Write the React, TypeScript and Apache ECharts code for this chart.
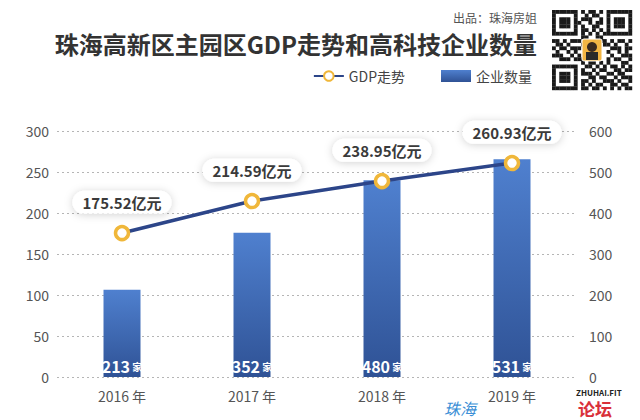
import React, { useEffect, useRef } from "react";
import * as echarts from "echarts";

const categories = ["2016 年", "2017 年", "2018 年", "2019 年"];
const gdpValues = [175.52, 214.59, 238.95, 260.93];
const companyCounts = [213, 352, 480, 531];
const leftTicks = { min: 0, max: 300, interval: 50 };
const rightTicks = { min: 0, max: 600, interval: 100 };
const titleText = "珠海高新区主园区GDP走势和高科技企业数量";
const sourceText = "出品：珠海房姐";

const FONT = "'Noto Sans CJK SC', 'Noto Sans', sans-serif";

// QR-like decoration pattern (rows of modules, 1 = dark)
const qrRows = [
  "1111111010110101111111",
  "1000001001011001000001",
  "1011101011100101011101",
  "1011101100101101011101",
  "1011101010011001011101",
  "1000001011010101000001",
  "1111111010101011111111",
  "0000000011001100000000",
  "1101011101100110101101",
  "0110100010010011010010",
  "1011011100000000111011",
  "0100101000000001001010",
  "1110010100000000100111",
  "0011101110000001011001",
  "0000000010110101000110",
  "1111111001101010110101",
  "1000001010010110011011",
  "1011101011101001101100",
  "1011101000110110010111",
  "1011101011010011101001",
  "1000001010101100110110",
  "1111111011011010101011",
];

function buildQr(x0: number, y0: number, size: number) {
  const n = qrRows.length;
  const m = size / n;
  const children: any[] = [];
  qrRows.forEach((row, r) => {
    for (let c = 0; c < row.length; c++) {
      if (row[c] === "1") {
        children.push({
          type: "rect",
          shape: { x: x0 + c * m, y: y0 + r * m, width: m + 0.2, height: m + 0.2 },
          style: { fill: "#1a1a1a" },
        });
      }
    }
  });
  children.push({
    type: "rect",
    shape: { x: x0 + size / 2 - 10, y: y0 + size / 2 - 11, width: 20, height: 22, r: 2 },
    style: { fill: "#f2b544", stroke: "#fff", lineWidth: 1 },
  });
  children.push({
    type: "circle",
    shape: { cx: x0 + size / 2, cy: y0 + size / 2 - 3, r: 5 },
    style: { fill: "#3a2a20" },
  });
  children.push({
    type: "rect",
    shape: { x: x0 + size / 2 - 6, y: y0 + size / 2 + 2, width: 12, height: 8 },
    style: { fill: "#2a2a2a" },
  });
  return { type: "group", children };
}

export default function App() {
  const ref = useRef<HTMLDivElement>(null);
  useEffect(() => {
    if (!ref.current) return;
    const chart = echarts.init(ref.current, undefined, { renderer: "svg" });
    const barGradient = new echarts.graphic.LinearGradient(0, 0, 0, 1, [
      { offset: 0, color: "#4f80cf" },
      { offset: 1, color: "#2f5295" },
    ]);
    chart.setOption({
      animation: false,
      backgroundColor: "#ffffff",
      textStyle: { fontFamily: FONT },
      grid: { left: 57, right: 63, top: 131, bottom: 43 },
      legend: {
        right: 103,
        top: 64,
        itemWidth: 30,
        itemHeight: 12,
        itemGap: 36,
        textStyle: { fontSize: 14, color: "#444", fontFamily: FONT },
        data: [
          { name: "GDP走势" },
          { name: "企业数量", icon: "rect" },
        ],
      },
      xAxis: {
        type: "category",
        data: categories,
        axisLine: { show: false },
        axisTick: { show: false },
        axisLabel: { color: "#555", fontSize: 14, margin: 12, fontFamily: FONT },
      },
      yAxis: [
        {
          type: "value",
          min: leftTicks.min,
          max: leftTicks.max,
          interval: leftTicks.interval,
          axisLine: { show: false },
          axisTick: { show: false },
          axisLabel: { color: "#555", fontSize: 14, margin: 8, fontFamily: FONT },
          splitLine: { lineStyle: { type: [2, 3], color: "#b5b5b5", width: 1 } },
        },
        {
          type: "value",
          min: rightTicks.min,
          max: rightTicks.max,
          interval: rightTicks.interval,
          axisLine: { show: false },
          axisTick: { show: false },
          axisLabel: { color: "#555", fontSize: 14, margin: 12, fontFamily: FONT },
          splitLine: { show: false },
        },
      ],
      series: [
        {
          name: "企业数量",
          type: "bar",
          yAxisIndex: 1,
          data: companyCounts,
          barWidth: 37,
          itemStyle: { color: barGradient },
          label: {
            show: true,
            position: "insideBottom",
            distance: 3,
            formatter: (p: any) => `{n|${p.value}}{u| 家}`,
            rich: {
              n: { color: "#fff", fontSize: 16, fontWeight: "bold", fontFamily: FONT },
              u: { color: "#fff", fontSize: 10, fontWeight: "bold", fontFamily: FONT },
            },
          },
          z: 2,
        },
        {
          name: "GDP走势",
          type: "line",
          yAxisIndex: 0,
          data: gdpValues,
          symbol: "circle",
          symbolSize: 13,
          lineStyle: { color: "#2c4589", width: 3.5 },
          itemStyle: { color: "#ffffff", borderColor: "#f0b73a", borderWidth: 3.5 },
          label: {
            show: true,
            position: "top",
            distance: 11,
            formatter: "{c}亿元",
            color: "#3a3a3a",
            fontSize: 15,
            fontWeight: "bold",
            fontFamily: FONT,
            backgroundColor: "#ffffff",
            borderRadius: 13,
            padding: [4, 10, 4, 10],
            shadowBlur: 8,
            shadowColor: "rgba(0,0,0,0.18)",
            shadowOffsetY: 1,
          },
          z: 5,
        },
      ],
      graphic: [
        {
          type: "text",
          right: 103,
          top: 11,
          style: { text: sourceText, fontSize: 12, fill: "#555", fontFamily: FONT },
        },
        {
          type: "text",
          right: 103,
          top: 31,
          style: {
            text: titleText,
            fontSize: 24,
            fontWeight: "bold",
            fill: "#333",
            fontFamily: FONT,
          },
        },
        buildQr(552, 10, 80),
        {
          type: "text",
          left: 576,
          top: 388,
          style: { text: "ZHUHAI.FIT", fontSize: 8, fontWeight: "bold", fill: "#222", fontFamily: FONT },
          z: 100,
        },
        {
          type: "text",
          left: 578,
          top: 400,
          style: { text: "论坛", fontSize: 17, fontWeight: "bold", fill: "#d9303a", fontFamily: FONT },
          z: 100,
        },
        {
          type: "text",
          left: 444,
          top: 400,
          style: { text: "珠海", fontSize: 16, fontStyle: "italic", fill: "#3b8fd6", fontFamily: FONT },
          z: 100,
        },
      ],
    });
    return () => chart.dispose();
  }, []);
  return (
    <div
      ref={ref}
      style={{ position: "fixed", left: 0, top: 0, width: 640, height: 420 }}
    />
  );
}
